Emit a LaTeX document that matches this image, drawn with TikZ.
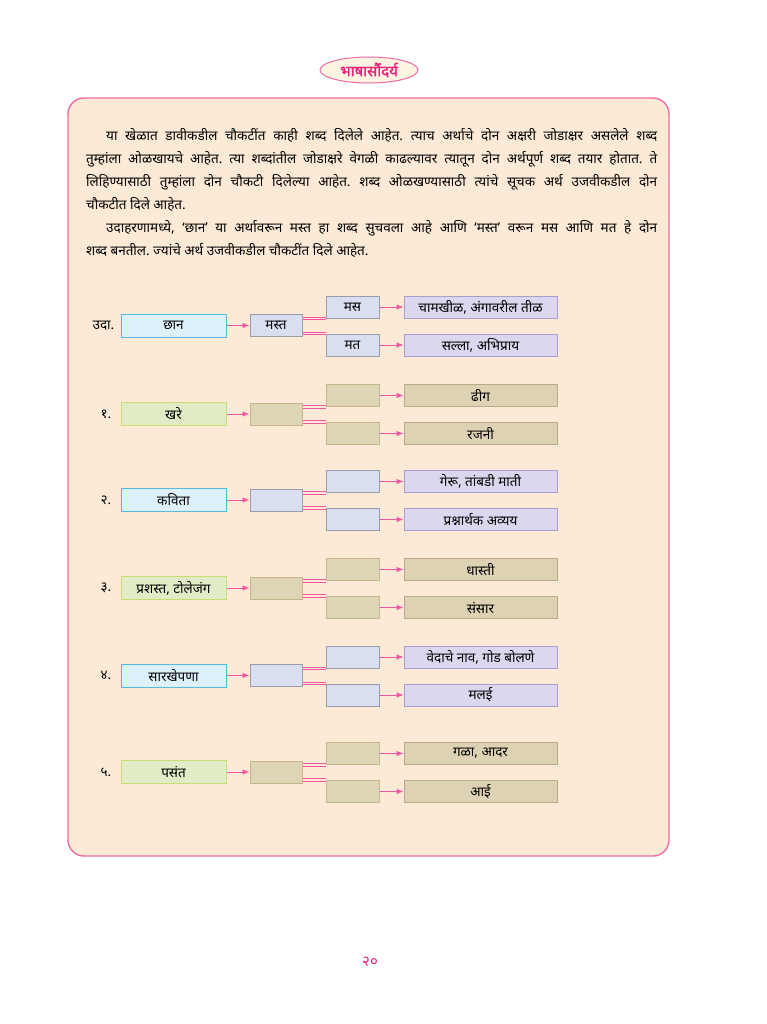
\documentclass[tikz,border=0pt]{standalone}
\usepackage{fontspec}
\setmainfont[Script=Devanagari]{Noto Sans}
\newfontfamily\titlefont[Script=Devanagari,FakeBold=1.6]{Noto Sans}
\usepackage{tikz}
\usetikzlibrary{arrows,arrows.meta,shapes,positioning}
\usepackage{xcolor}
\definecolor{pagebg}{RGB}{253,234,214}
\definecolor{framepink}{RGB}{240,106,165}
\definecolor{arrpink}{RGB}{240,86,159}
\definecolor{titlepink}{RGB}{232,32,122}
\definecolor{titlefill}{RGB}{255,244,226}
\definecolor{wblue}{RGB}{221,241,251}
\definecolor{wblueline}{RGB}{91,184,224}
\definecolor{ablue}{RGB}{217,223,240}
\definecolor{ablueline}{RGB}{156,156,168}
\definecolor{mblue}{RGB}{220,214,238}
\definecolor{mblueline}{RGB}{169,158,208}
\definecolor{wgreen}{RGB}{225,235,197}
\definecolor{wgreenline}{RGB}{201,220,114}
\definecolor{agreen}{RGB}{221,213,181}
\definecolor{agreenline}{RGB}{196,181,138}
\definecolor{mgreen}{RGB}{221,211,180}
\definecolor{mgreenline}{RGB}{184,171,136}
\tikzstyle{arrow} = [line width=1pt,->,>={Latex[length=7pt,width=5.5pt]},color=arrpink]
\tikzstyle{dblline} = [draw=arrpink, double=pagebg, double distance=1.6pt, line width=0.9pt]
\tikzstyle{wordbox} = [rectangle, minimum width=105pt, minimum height=23pt, inner sep=0pt, text centered, line width=1pt, font=\fontsize{13.5}{15}\selectfont]
\tikzstyle{ansbox} = [rectangle, minimum width=53pt, minimum height=22pt, inner sep=0pt, text centered, line width=1pt, font=\fontsize{13.5}{15}\selectfont]
\tikzstyle{meanbox} = [rectangle, minimum width=153pt, minimum height=22pt, inner sep=0pt, text centered, line width=1pt, font=\fontsize{13.5}{15}\selectfont]
\tikzstyle{numlabel} = [inner sep=0pt, font=\fontsize{13.5}{15}\selectfont]
\tikzstyle{blue} = [fill=wblue, draw=wblueline]
\tikzstyle{blueans} = [fill=ablue, draw=ablueline]
\tikzstyle{bluemean} = [fill=mblue, draw=mblueline]
\tikzstyle{green} = [fill=wgreen, draw=wgreenline]
\tikzstyle{greenans} = [fill=agreen, draw=agreenline]
\tikzstyle{greenmean} = [fill=mgreen, draw=mgreenline]
\tikzstyle{para} = [anchor=north west, inner sep=0pt, text width=571pt, align=justify, font=\fontsize{13.5}{23}\selectfont]
\begin{document}
\frenchspacing
\begin{tikzpicture}[x=1pt,y=-1pt]
\useasboundingbox[fill=white] (0,0) rectangle (767,1024);
% Frame and title
\draw[framepink, fill=pagebg, line width=1.4pt, rounded corners=16pt] (68,98) rectangle (669,856);
\node[ellipse, draw=framepink, fill=titlefill, line width=1pt, minimum width=98pt, minimum height=26pt, inner sep=0pt, text=titlepink, font=\titlefont\fontsize{15}{17}\selectfont] (title) at (369,70) {भाषासौंदर्य};
% Instructions
\node[para] (para) at (86,128) {\hspace*{20pt}या खेळात डावीकडील चौकटींत काही शब्द दिलेले आहेत. त्याच अर्थाचे दोन अक्षरी जोडाक्षर असलेले शब्द\linebreak तुम्हांला ओळखायचे आहेत. त्या शब्दांतील जोडाक्षरे वेगळी काढल्यावर त्यातून दोन अर्थपूर्ण शब्द तयार होतात. ते\linebreak लिहिण्यासाठी तुम्हांला दोन चौकटी दिलेल्या आहेत. शब्द ओळखण्यासाठी त्यांचे सूचक अर्थ उजवीकडील दोन\linebreak चौकटीत दिले आहेत.\par
\hspace*{20pt}उदाहरणामध्ये, ‘छान’ या अर्थावरून मस्त हा शब्द सुचवला आहे आणि ‘मस्त’ वरून मस आणि मत हे दोन\linebreak शब्द बनतील. ज्यांचे अर्थ उजवीकडील चौकटींत दिले आहेत.};
% Example
\node[wordbox, blue] (w0) at (173.5,325.5) {छान};
\node[numlabel, left=6pt of w0] (n0) {उदा.};
\node[ansbox, blueans, right=23pt of w0, minimum width=52pt] (m0) {मस्त};
\node[ansbox, blueans, right=23pt of m0, yshift=18.5pt] (t0) {मस};
\node[ansbox, blueans, right=23pt of m0, yshift=-19.5pt] (b0) {मत};
\node[meanbox, bluemean, right=24pt of t0] (tm0) {चामखीळ, अंगावरील तीळ};
\node[meanbox, bluemean, right=24pt of b0] (bm0) {सल्ला, अभिप्राय};
\draw[arrow] (w0) -- (m0);
\draw[dblline] (m0.east |- t0.south) -- (t0.south west);
\draw[dblline] (m0.east |- b0.north) -- (b0.north west);
\draw[arrow] (t0) -- (tm0);
\draw[arrow] (b0) -- (bm0);
% 1
\node[wordbox, green] (w1) at (173.5,414) {खरे};
\node[numlabel, left=9pt of w1] (n1) {१.};
\node[ansbox, greenans, right=23pt of w1, minimum width=52pt] (m1) {};
\node[ansbox, greenans, right=23pt of m1, yshift=18.5pt] (t1) {};
\node[ansbox, greenans, right=23pt of m1, yshift=-19.5pt] (b1) {};
\node[meanbox, greenmean, right=24pt of t1] (tm1) {ढीग};
\node[meanbox, greenmean, right=24pt of b1] (bm1) {रजनी};
\draw[arrow] (w1) -- (m1);
\draw[dblline] (m1.east |- t1.south) -- (t1.south west);
\draw[dblline] (m1.east |- b1.north) -- (b1.north west);
\draw[arrow] (t1) -- (tm1);
\draw[arrow] (b1) -- (bm1);
% 2
\node[wordbox, blue] (w2) at (173.5,500) {कविता};
\node[numlabel, left=9pt of w2] (n2) {२.};
\node[ansbox, blueans, right=23pt of w2, minimum width=52pt] (m2) {};
\node[ansbox, blueans, right=23pt of m2, yshift=18.5pt] (t2) {};
\node[ansbox, blueans, right=23pt of m2, yshift=-19.5pt] (b2) {};
\node[meanbox, bluemean, right=24pt of t2] (tm2) {गेरू, तांबडी माती};
\node[meanbox, bluemean, right=24pt of b2] (bm2) {प्रश्नार्थक अव्यय};
\draw[arrow] (w2) -- (m2);
\draw[dblline] (m2.east |- t2.south) -- (t2.south west);
\draw[dblline] (m2.east |- b2.north) -- (b2.north west);
\draw[arrow] (t2) -- (tm2);
\draw[arrow] (b2) -- (bm2);
% 3
\node[wordbox, green] (w3) at (173.5,588) {प्रशस्त, टोलेजंग};
\node[numlabel, left=9pt of w3] (n3) {३.};
\node[ansbox, greenans, right=23pt of w3, minimum width=52pt] (m3) {};
\node[ansbox, greenans, right=23pt of m3, yshift=18.5pt] (t3) {};
\node[ansbox, greenans, right=23pt of m3, yshift=-19.5pt] (b3) {};
\node[meanbox, greenmean, right=24pt of t3] (tm3) {धास्ती};
\node[meanbox, greenmean, right=24pt of b3] (bm3) {संसार};
\draw[arrow] (w3) -- (m3);
\draw[dblline] (m3.east |- t3.south) -- (t3.south west);
\draw[dblline] (m3.east |- b3.north) -- (b3.north west);
\draw[arrow] (t3) -- (tm3);
\draw[arrow] (b3) -- (bm3);
% 4
\node[wordbox, blue] (w4) at (173.5,675.5) {सारखेपणा};
\node[numlabel, left=9pt of w4] (n4) {४.};
\node[ansbox, blueans, right=23pt of w4, minimum width=52pt] (m4) {};
\node[ansbox, blueans, right=23pt of m4, yshift=18.5pt] (t4) {};
\node[ansbox, blueans, right=23pt of m4, yshift=-19.5pt] (b4) {};
\node[meanbox, bluemean, right=24pt of t4] (tm4) {वेदाचे नाव, गोड बोलणे};
\node[meanbox, bluemean, right=24pt of b4] (bm4) {मलई};
\draw[arrow] (w4) -- (m4);
\draw[dblline] (m4.east |- t4.south) -- (t4.south west);
\draw[dblline] (m4.east |- b4.north) -- (b4.north west);
\draw[arrow] (t4) -- (tm4);
\draw[arrow] (b4) -- (bm4);
% 5
\node[wordbox, green] (w5) at (173.5,772) {पसंत};
\node[numlabel, left=9pt of w5] (n5) {५.};
\node[ansbox, greenans, right=23pt of w5, minimum width=52pt] (m5) {};
\node[ansbox, greenans, right=23pt of m5, yshift=18.5pt] (t5) {};
\node[ansbox, greenans, right=23pt of m5, yshift=-19.5pt] (b5) {};
\node[meanbox, greenmean, right=24pt of t5] (tm5) {गळा, आदर};
\node[meanbox, greenmean, right=24pt of b5] (bm5) {आई};
\draw[arrow] (w5) -- (m5);
\draw[dblline] (m5.east |- t5.south) -- (t5.south west);
\draw[dblline] (m5.east |- b5.north) -- (b5.north west);
\draw[arrow] (t5) -- (tm5);
\draw[arrow] (b5) -- (bm5);
% Page number
\node[text=titlepink, font=\fontsize{15}{17}\selectfont] (page) at (370,962) {२०};
\end{tikzpicture}
\end{document}
